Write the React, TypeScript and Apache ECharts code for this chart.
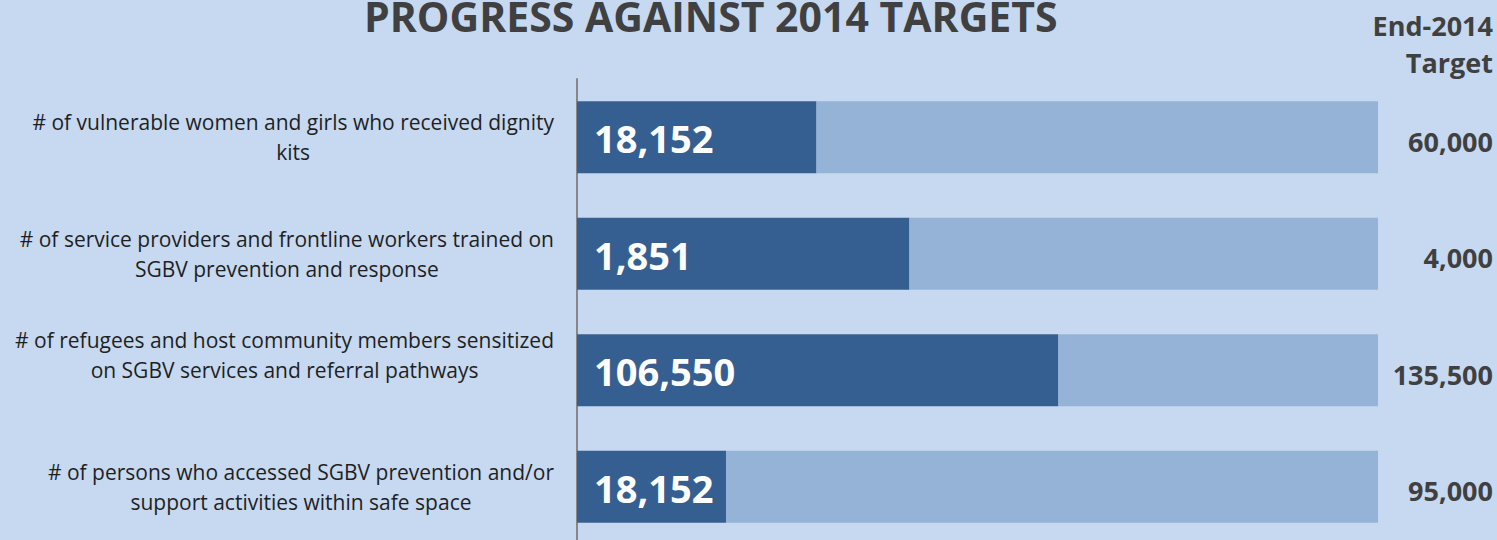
import React, { useEffect, useRef } from "react";
import * as echarts from "echarts";

const categories = [
  "# of vulnerable women and girls who received dignity\nkits",
  "# of service providers and frontline workers trained on\nSGBV prevention and response",
  "# of refugees and host community members sensitized\non SGBV services and referral pathways",
  "# of persons who accessed SGBV prevention and/or\nsupport activities within safe space",
];
// share of the bar (percent of target) filled by progress
const progressShare = [29.9, 41.5, 60.1, 18.6];
const achievedLabels = ["18,152", "1,851", "106,550", "18,152"];
const targetLabels = ["60,000", "4,000", "135,500", "95,000"];
const titleText = "PROGRESS AGAINST 2014 TARGETS";
const targetHeader = ["End-2014", "Target"];

const FONT = "'Open Sans', 'Noto Sans', sans-serif";

export default function App() {
  const ref = useRef<HTMLDivElement>(null);
  useEffect(() => {
    if (!ref.current) return;
    const chart = echarts.init(ref.current, undefined, { renderer: "svg" });
    const remainder = progressShare.map((v) => 100 - v);
    chart.setOption({
      animation: false,
      backgroundColor: "#c6d9f1",
      grid: { left: 577, right: 119, top: 79, height: 466, containLabel: false },
      xAxis: {
        type: "value",
        min: 0,
        max: 100,
        show: false,
        splitLine: { show: false },
      },
      yAxis: {
        type: "category",
        inverse: true,
        data: categories,
        axisTick: { show: false },
        axisLine: { show: true, lineStyle: { color: "#878787", width: 2 } },
        axisLabel: {
          margin: 23,
          formatter: (value: string, index: number) => {
            const lines = value.split("\n").map((l) => `{c|${l}}`);
            if (index === 2) lines.push("{c| }");
            return lines.join("\n");
          },
          rich: {
            c: {
              fontFamily: FONT,
              fontSize: 21,
              color: "#1f1f1f",
              lineHeight: 30,
              align: "center",
            },
          },
        },
      },
      series: [
        {
          type: "bar",
          stack: "total",
          data: progressShare,
          barCategoryGap: "38%",
          itemStyle: { color: "#365f91" },
          label: {
            show: true,
            position: "insideLeft",
            distance: 17,
            offset: [0, 1],
            formatter: (p: any) => achievedLabels[p.dataIndex],
            color: "#ffffff",
            fontFamily: FONT,
            fontWeight: "bold",
            fontSize: 38,
          },
        },
        {
          type: "bar",
          stack: "total",
          data: remainder,
          barCategoryGap: "38%",
          itemStyle: { color: "#95b3d7" },
          label: {
            show: true,
            position: "right",
            distance: 0,
            align: "right",
            offset: [115, 4],
            formatter: (p: any) => targetLabels[p.dataIndex],
            color: "#404040",
            fontFamily: FONT,
            fontWeight: "bold",
            fontSize: 27,
          },
        },
      ],
      graphic: [
        {
          type: "text",
          x: 364,
          y: 16,
          style: {
            text: titleText,
            fontFamily: FONT,
            fontWeight: "bold",
            fontSize: 41,
            lineHeight: 32,
            fill: "#404040",
            textAlign: "left",
            textVerticalAlign: "middle",
          },
        },
        {
          type: "text",
          x: 1493,
          y: 25,
          style: {
            text: targetHeader[0],
            fontFamily: FONT,
            fontWeight: "bold",
            fontSize: 27,
            fill: "#404040",
            textAlign: "right",
            textVerticalAlign: "middle",
          },
        },
        {
          type: "text",
          x: 1493,
          y: 62,
          style: {
            text: targetHeader[1],
            fontFamily: FONT,
            fontWeight: "bold",
            fontSize: 27,
            fill: "#404040",
            textAlign: "right",
            textVerticalAlign: "middle",
          },
        },
      ],
    });
    return () => chart.dispose();
  }, []);
  return (
    <div
      style={{
        position: "absolute",
        left: 0,
        top: 0,
        width: 1497,
        height: 540,
        overflow: "hidden",
        background: "#c6d9f1",
      }}
    >
      <div ref={ref} style={{ width: 1497, height: 552 }} />
    </div>
  );
}
